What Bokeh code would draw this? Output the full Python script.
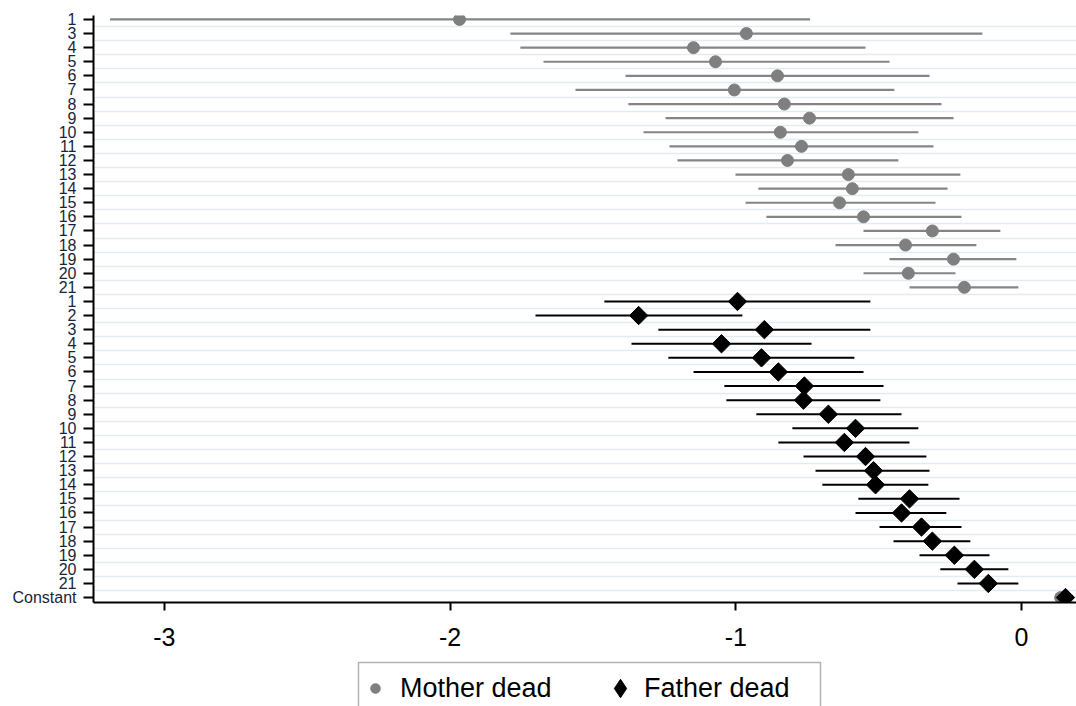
from bokeh.plotting import figure
from bokeh.layouts import column
from bokeh.models import Range1d, FixedTicker, Legend, LegendItem, ColumnDataSource, BoxAnnotation
from bokeh.embed import file_html
from bokeh.resources import INLINE
import numpy as np

# ---- data ----
mother_labels = ["1", "3", "4", "5", "6", "7", "8", "9", "10", "11", "12",
                 "13", "14", "15", "16", "17", "18", "19", "20", "21"]
mother_coef = [-1.967, -0.963, -1.148, -1.071, -0.854, -1.005, -0.830, -0.742, -0.844, -0.770,
               -0.819, -0.606, -0.592, -0.637, -0.553, -0.312, -0.406, -0.238, -0.396, -0.200]
mother_lo = [-3.19, -1.789, -1.754, -1.673, -1.386, -1.561, -1.376, -1.246, -1.323, -1.232,
             -1.204, -1.001, -0.921, -0.966, -0.893, -0.553, -0.651, -0.462, -0.553, -0.392]
mother_hi = [-0.74, -0.137, -0.546, -0.462, -0.322, -0.445, -0.280, -0.238, -0.361, -0.308,
             -0.431, -0.214, -0.259, -0.301, -0.210, -0.074, -0.158, -0.018, -0.231, -0.011]

father_labels = [str(i) for i in range(1, 22)]
father_coef = [-0.994, -1.340, -0.900, -1.050, -0.910, -0.851, -0.760, -0.763, -0.676, -0.581,
               -0.620, -0.546, -0.518, -0.511, -0.392, -0.420, -0.350, -0.312, -0.235, -0.165, -0.116]
father_lo = [-1.460, -1.701, -1.271, -1.365, -1.236, -1.148, -1.040, -1.033, -0.928, -0.802,
             -0.851, -0.763, -0.721, -0.697, -0.571, -0.581, -0.497, -0.448, -0.357, -0.284, -0.224]
father_hi = [-0.529, -0.977, -0.529, -0.735, -0.585, -0.553, -0.483, -0.494, -0.420, -0.361,
             -0.392, -0.333, -0.322, -0.326, -0.217, -0.263, -0.210, -0.179, -0.112, -0.046, -0.011]

const_label = "Constant"
const_mother = [0.137, 0.127, 0.147]   # coef, lo, hi
const_father = [0.154, 0.144, 0.164]

x_ticks = [-3, -2, -1, 0]
x_tick_labels = ["-3", "-2", "-1", "0"]
legend_labels = ["Mother dead", "Father dead"]

MOTHER_COLOR = "#7f7f7f"
FATHER_COLOR = "black"

# ---- row layout ----
all_labels = mother_labels + father_labels + [const_label]
n_rows = len(all_labels)
mother_rows = list(range(len(mother_labels)))
father_rows = list(range(len(mother_labels), len(mother_labels) + len(father_labels)))
const_row = n_rows - 1

m_src = ColumnDataSource(dict(
    y=mother_rows + [const_row],
    coef=mother_coef + [const_mother[0]],
    lo=mother_lo + [const_mother[1]],
    hi=mother_hi + [const_mother[2]],
))
f_src = ColumnDataSource(dict(
    y=father_rows + [const_row],
    coef=father_coef + [const_father[0]],
    lo=father_lo + [const_father[1]],
    hi=father_hi + [const_father[2]],
))

p = figure(width=1076, height=660, output_backend="svg", toolbar_location=None,
           x_range=Range1d(-3.248, 0.1925), y_range=Range1d(41.35, -0.28),
           min_border_left=93, min_border_right=0, min_border_top=15, min_border_bottom=58)
p.outline_line_color = None
p.background_fill_color = "white"
p.border_fill_color = "white"

p.xgrid.visible = False
p.ygrid.ticker = FixedTicker(ticks=[i + 0.5 for i in range(n_rows - 1)])
p.ygrid.grid_line_color = "#e2ebf0"
p.ygrid.grid_line_width = 1.5

# y axis
p.yaxis.ticker = FixedTicker(ticks=list(range(n_rows)))
p.yaxis.major_label_overrides = {i: lab for i, lab in enumerate(all_labels)}
p.yaxis.major_label_text_font = "Liberation Sans"
p.yaxis.major_label_text_font_size = "16px"
p.yaxis.major_label_text_color = "#1a1f3c"
p.yaxis.major_label_standoff = 7
p.yaxis.major_tick_out = 10
p.yaxis.major_tick_in = 0
p.yaxis.major_tick_line_width = 2
p.yaxis.major_tick_line_color = "black"
p.yaxis.minor_tick_line_color = None
p.yaxis.axis_line_width = 2
p.yaxis.axis_line_color = "black"

# x axis
p.xaxis.ticker = FixedTicker(ticks=x_ticks)
p.xaxis.major_label_overrides = dict(zip(x_ticks, x_tick_labels))
p.xaxis.major_label_text_font = "Liberation Sans"
p.xaxis.major_label_text_font_size = "25px"
p.xaxis.major_label_text_color = "black"
p.xaxis.major_label_standoff = 17
p.xaxis.major_tick_out = 8
p.xaxis.major_tick_in = 0
p.xaxis.major_tick_line_width = 2
p.xaxis.minor_tick_line_color = None
p.xaxis.axis_line_width = 2
p.xaxis.axis_line_color = "black"

# error bars
p.segment(x0="lo", y0="y", x1="hi", y1="y", source=m_src, line_color="#858585", line_width=2.2)
p.segment(x0="lo", y0="y", x1="hi", y1="y", source=f_src, line_color=FATHER_COLOR, line_width=2)

p.scatter(x="coef", y="y", source=m_src, marker="circle", size=12,
          fill_color=MOTHER_COLOR, line_color=MOTHER_COLOR)
p.scatter(x="coef", y="y", source=f_src, marker="square", size=13, angle=np.pi / 4,
          fill_color=FATHER_COLOR, line_color=FATHER_COLOR)

# ---- legend strip below the plot (x/y in page pixels) ----
lf = figure(width=1076, height=46, output_backend="svg", toolbar_location=None,
            x_range=Range1d(93, 1076), y_range=Range1d(706, 660),
            x_axis_type=None, y_axis_type=None,
            min_border_left=0, min_border_right=0, min_border_top=0, min_border_bottom=0)
lf.outline_line_color = None
lf.xgrid.visible = False
lf.ygrid.visible = False
lf.background_fill_color = "white"

# legend frame
lf.add_layout(BoxAnnotation(left=358, right=820, top=662, bottom=730,
                            fill_alpha=0, line_color="black", line_width=1.5))

# legend-only renderers (their single point lies outside the visible range)
m_leg = lf.scatter(x=[0], y=[0], marker="circle", size=10,
                   fill_color=MOTHER_COLOR, line_color=MOTHER_COLOR)
f_leg = lf.scatter(x=[0], y=[0], marker="diamond", size=10,
                   fill_color=FATHER_COLOR, line_color=FATHER_COLOR)


def make_legend(label, rend, gw, gh, loc, standoff):
    lg = Legend(items=[LegendItem(label=label, renderers=[rend])], location=loc)
    lg.label_text_font = "Liberation Sans"
    lg.label_text_font_size = "27px"
    lg.label_text_color = "black"
    lg.glyph_width = gw
    lg.glyph_height = gh
    lg.label_height = gh
    lg.label_standoff = standoff
    lg.padding = 0
    lg.margin = 0
    lg.border_line_color = None
    lg.background_fill_alpha = 0
    return lg


lf.add_layout(make_legend(legend_labels[0], m_leg, 24, 34, (270, 1), 13), "center")
lf.add_layout(make_legend(legend_labels[1], f_leg, 46, 46, (504, -5), 1), "center")

layout = column(p, lf, spacing=0)
open("out.html", "w").write(file_html(layout, INLINE))
